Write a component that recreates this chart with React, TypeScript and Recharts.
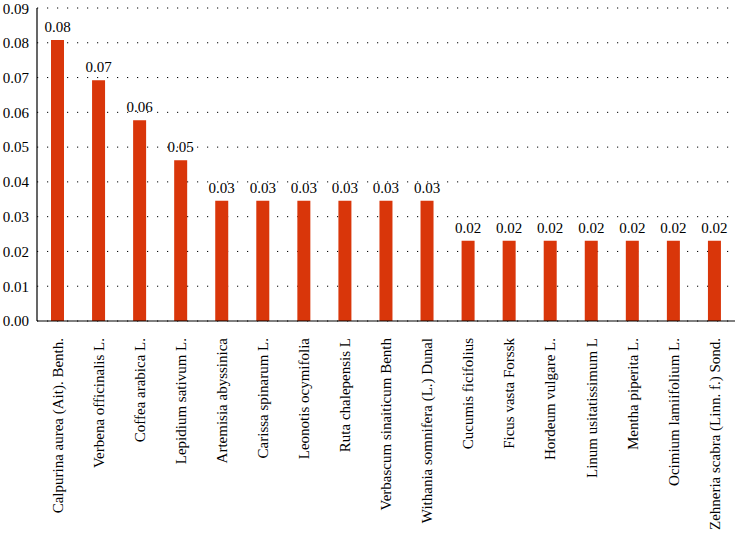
import { BarChart, Bar, XAxis, YAxis, CartesianGrid, LabelList } from "recharts";

const species = [
  "Calpurina aurea (Ait). Benth.",
  "Verbena officinalis L.",
  "Coffea arabica L.",
  "Lepidium sativum L.",
  "Artemisia abyssinica",
  "Carissa spinarum L.",
  "Leonotis ocymifolia",
  "Ruta chalepensis L",
  "Verbascum sinaiticum Benth",
  "Withania somnifera (L.) Dunal",
  "Cucumis ficifolius",
  "Ficus vasta Forssk",
  "Hordeum vulgare L.",
  "Linum usitatissimum L",
  "Mentha piperita L.",
  "Ocimium lamiifolium L.",
  "Zehneria scabra (Linn. f.) Sond.",
];

const values = [
  0.0808, 0.0692, 0.0577, 0.0462, 0.0346, 0.0346, 0.0346, 0.0346, 0.0346,
  0.0346, 0.0231, 0.0231, 0.0231, 0.0231, 0.0231, 0.0231, 0.0231,
];

const yTicks = [0, 0.01, 0.02, 0.03, 0.04, 0.05, 0.06, 0.07, 0.08, 0.09];

const FONT = "'Liberation Serif', 'Times New Roman', serif";

const data = species.map((name, i) => ({ name, value: values[i] }));

function SpeciesTick({ x, y, payload }: any) {
  return (
    <text
      transform={`translate(${x},${y + 9}) rotate(-90)`}
      textAnchor="end"
      dy="0.35em"
      fontFamily={FONT}
      fontSize={15}
      fill="#000"
    >
      {payload.value}
    </text>
  );
}

export default function App() {
  return (
    <div style={{ position: "absolute", left: 0, top: 0, background: "#fff" }}>
      <BarChart
        width={735}
        height={539}
        data={data}
        margin={{ top: 8, right: 0, left: 0, bottom: 0 }}
      >
        <CartesianGrid
          vertical={false}
          stroke="#000"
          strokeDasharray="1.2 8.8"
        />
        <XAxis
          dataKey="name"
          interval={0}
          height={218}
          tickLine={false}
          axisLine={{ stroke: "#000", strokeWidth: 1.2 }}
          tick={<SpeciesTick />}
        />
        <YAxis
          width={37}
          domain={[0, 0.09]}
          ticks={yTicks}
          tickFormatter={(v: number) => v.toFixed(2)}
          tickLine={false}
          axisLine={{ stroke: "#000", strokeWidth: 1.2 }}
          tick={{ fontFamily: FONT, fontSize: 15, fill: "#000" }}
        />
        <Bar dataKey="value" fill="#d9360a" barSize={13} isAnimationActive={false}>
          <LabelList
            dataKey="value"
            position="top"
            offset={8}
            formatter={(v: any) => Number(v).toFixed(2)}
            style={{ fontFamily: FONT, fontSize: 15, fill: "#000" }}
          />
        </Bar>
      </BarChart>
    </div>
  );
}
